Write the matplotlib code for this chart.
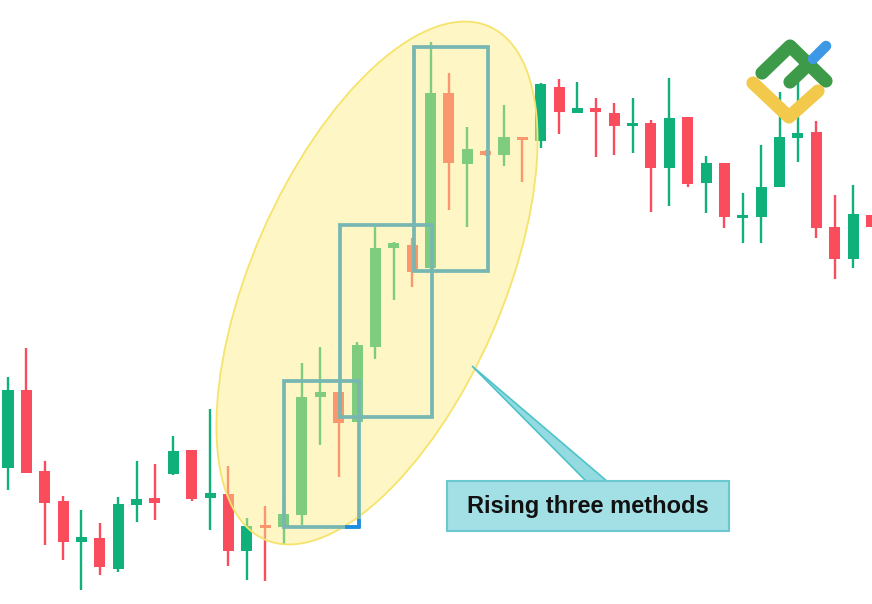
import matplotlib
matplotlib.use("Agg")
import matplotlib.pyplot as plt
from matplotlib.patches import Ellipse, Rectangle, Polygon, FancyBboxPatch
from matplotlib.transforms import Affine2D
import numpy as np

# candle data (arbitrary price units)
opens = [136, 214, 133, 103, 62, 66, 35, 99, 106, 130, 154, 106, 110, 53, 79, 77,
         89, 207, 212, 182, 257, 356, 359, 336, 511, 440, 453, 449, 467, 463,
         517, 491, 496, 491, 478, 481, 436, 487, 421, 441, 387, 387, 417, 466,
         472, 377, 345, 389]
highs = [227, 256, 143, 108, 94, 81, 107, 143, 140, 168, 154, 195, 138, 86, 98, 101,
         241, 257, 212, 262, 377, 362, 366, 562, 531, 477, 454, 499, 467, 521,
         525, 522, 506, 501, 506, 484, 526, 487, 448, 441, 411, 459, 512, 522,
         483, 409, 419, 389]
lows = [114, 131, 59, 44, 14, 29, 32, 82, 84, 129, 103, 74, 38, 24, 23, 59,
        79, 159, 127, 182, 245, 304, 317, 332, 394, 377, 448, 438, 422, 456,
        470, 491, 447, 449, 451, 392, 398, 417, 391, 376, 361, 361, 417, 442,
        366, 325, 336, 377]
closes = [214, 131, 101, 62, 67, 37, 100, 105, 101, 153, 105, 111, 53, 78, 77, 90,
          207, 212, 181, 259, 356, 361, 332, 511, 441, 455, 449, 467, 464, 520,
          492, 496, 492, 478, 481, 436, 486, 420, 441, 387, 389, 417, 467, 471,
          376, 345, 390, 377]

label_text = "Rising three methods"

# highlighted groups: candle index range and price range of each box
groups = [(15.02, 19.1, 77, 223), (18.07, 23.08, 187, 379), (22.1, 26.13, 333, 557)]

GREEN = "#10b07b"
RED = "#f94d5e"

fig = plt.figure(figsize=(8.72, 6.04), dpi=100)
ax = fig.add_axes([0, 0, 1, 1])
ax.set_axis_off()

n = len(opens)
x = np.arange(n)
o = np.array(opens)
c = np.array(closes)
colors = [GREEN if cc >= oo else RED for oo, cc in zip(o, c)]

step = 18.37
ax.set_xlim(-8 / step, (872 - 8) / step)
ax.set_ylim(0, 604)

ax.vlines(x, lows, highs, colors=colors, lw=1.7, zorder=1)
body = np.maximum(np.abs(c - o), 3)
bottom = np.minimum(o, c) - np.where(np.abs(c - o) < 3, 1, 0)
ax.bar(x, body, bottom=bottom, width=0.6, color=colors, zorder=2)

# pixel space helper (x right, y down) in figure fraction
pix = Affine2D().scale(1 / 872, -1 / 604).translate(0, 1) + fig.transFigure

# highlight ellipse
ax.add_patch(Ellipse((377, 283), 560, 251, angle=-66.4, transform=pix,
                     facecolor="#fdec82", alpha=0.47, edgecolor="none", zorder=3))
ax.add_patch(Ellipse((377, 283), 560, 251, angle=-66.4, transform=pix,
                     facecolor="none", edgecolor="#f6e36c", lw=1.3, zorder=3))

for x0, x1, y0, y1 in groups:
    ax.add_patch(Rectangle((x0, y0), x1 - x0, y1 - y0, fill=False,
                           edgecolor="#78b7b1", lw=2.7, zorder=4))
# small blue corner on the first box
ax.plot([groups[0][1] - 0.75, groups[0][1], groups[0][1]],
        [groups[0][2], groups[0][2], groups[0][2] + 8],
        color="#1d8fe1", lw=2.7, zorder=4, solid_capstyle="butt")

# callout pointer
ax.add_patch(Polygon([(472, 366), (587, 482), (608, 482)], closed=True,
                     transform=pix, facecolor="#93dbe0", edgecolor="#4fc3c9",
                     lw=1.2, zorder=5))
# callout box
ax.add_patch(FancyBboxPatch((447, 481), 282, 50, boxstyle="square,pad=0",
                            transform=pix, facecolor="#a3e0e6",
                            edgecolor="#6cc8d0", lw=1.5, zorder=6))
ax.text(588, 506, label_text, transform=pix, ha="center", va="center",
        fontsize=17, fontweight="bold", family="Liberation Sans",
        color="#111111", zorder=7)

# logo
logo_lw = 9.5
ax.plot([762, 790, 826], [73, 46, 81], transform=pix, color="#3d9a48",
        lw=logo_lw, solid_capstyle="round", solid_joinstyle="round", zorder=8)
ax.plot([790, 810], [82, 63], transform=pix, color="#3d9a48",
        lw=logo_lw, solid_capstyle="round", zorder=8)
ax.plot([813, 826], [59, 46], transform=pix, color="#3d98e6",
        lw=logo_lw * 0.8, solid_capstyle="round", zorder=8)
ax.plot([753, 789, 818], [83, 117, 91], transform=pix, color="#f2c94a",
        lw=logo_lw, solid_capstyle="round", solid_joinstyle="round", zorder=8)

fig.savefig("out.png", dpi=100, facecolor="white")
